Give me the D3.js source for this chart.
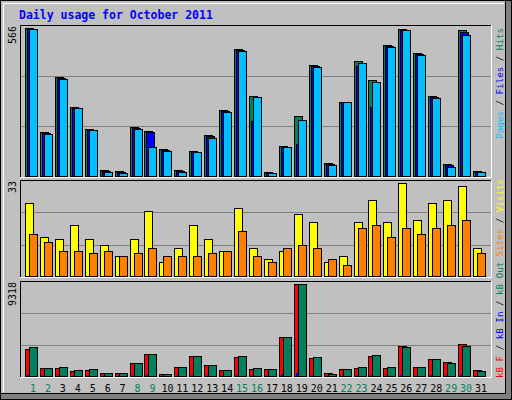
<!DOCTYPE html>
<html><head><meta charset="utf-8">
<script src="https://cdn.jsdelivr.net/npm/d3@7/dist/d3.min.js"></script>
<style>body{margin:0;background:#fff}svg{display:block}</style>
</head><body>
<script>
const days = d3.range(1, 32);
const weekend = [1,2,8,9,15,16,22,23,29,30];
const hits  = [566,167,377,263,179,22,18,186,171,102,22,94,156,251,485,305,14,114,228,423,49,282,439,366,500,561,469,305,45,557,18];
const files = [564,165,375,261,177,20,16,184,167,100,20,92,154,249,483,210,12,112,121,421,47,282,419,263,498,559,467,303,43,549,16];
const pages = [561,160,370,259,175,14,10,179,110,94,14,90,144,244,477,301,10,110,213,416,41,282,431,358,492,557,462,297,33,538,14];
const visits = [26,14,13,18,13,11,7,13,23,5,10,18,13,9,24,10,6,9,22,19,5,7,19,27,19,33,20,26,27,32,10];
const sites  = [15,12,9,9,8,9,7,8,10,7,7,7,8,9,16,7,5,10,11,10,6,4,17,18,14,17,15,17,18,20,8];
const kbF   = [2735,810,810,506,608,304,304,1317,2228,203,912,2026,1114,608,1924,709,709,3950,9318,1823,304,709,810,2026,810,3038,912,1722,1418,3241,608];
const kbIn  = [120,40,40,30,30,20,20,60,90,10,40,80,50,30,80,30,30,150,300,70,20,30,40,80,40,120,40,70,60,130,30];
const kbOut = [2903,810,912,608,709,304,304,1317,2228,203,912,2026,1114,608,2026,810,709,3950,9318,1924,236,709,912,2127,912,2937,912,1722,1317,3038,506];
const maxLabels = ["566","33","9318"];

const W=512,H=400;
const svg=d3.select("body").append("svg").attr("width",W).attr("height",H);
const mono="'DejaVu Sans Mono', 'Liberation Mono', monospace";
svg.append("rect").attr("x",0).attr("y",0).attr("width",W).attr("height",H).attr("fill","#808080");
svg.append("rect").attr("x",0).attr("y",0).attr("width",505).attr("height",393).attr("fill","#C0C0C0");
svg.append("rect").attr("x",0.5).attr("y",0.5).attr("width",W-1).attr("height",H-1).attr("fill","none").attr("stroke","#000");
svg.append("path").attr("d","M3.5,392V3.5H504").attr("fill","none").attr("stroke","#fff");
svg.append("path").attr("d","M505.5,1V393.5H1").attr("fill","none").attr("stroke","#000");

svg.append("text").attr("x",19).attr("y",19).attr("font-family",mono).attr("font-weight","bold")
  .attr("font-size",11.5).attr("fill","#0000FF").text("Daily usage for October 2011");

const x=d3.scaleLinear().domain([1,31]).range([33,481]);
const L=20,R=491;
const panels=[
  {top:25,bot:177,max:566,lab:maxLabels[0]},
  {top:180,bot:277,max:33,lab:maxLabels[1]},
  {top:281,bot:377,max:9318,lab:maxLabels[2]}
];
panels.forEach(p=>{
  p.y=d3.scaleLinear().domain([0,p.max]).range([p.bot-1,p.top+3]);
  const g=svg.append("g");
  [1,2].forEach(k=>{const yy=Math.round(p.top+(p.bot-p.top)*k/3)+0.5;
    g.append("line").attr("x1",L).attr("x2",R).attr("y1",yy).attr("y2",yy).attr("stroke","#808080");});
  g.append("path").attr("d",`M${L+0.5},${p.bot}V${p.top+0.5}H${R}`).attr("fill","none").attr("stroke","#000");
  g.append("path").attr("d",`M${R+0.5},${p.top}V${p.bot+0.5}H${L}`).attr("fill","none").attr("stroke","#fff");
  svg.append("text").attr("transform",`translate(16,${p.top+1}) rotate(-90)`).attr("text-anchor","end")
    .attr("font-family",mono).attr("font-size",10).attr("fill","#000").text(p.lab);
});

function bars(p,data,off,w,color){
  svg.append("g").selectAll("rect").data(data).join("rect")
    .attr("x",(d,i)=>Math.round(x(days[i]))+off+0.5).attr("width",w)
    .attr("y",d=>Math.round(p.y(d))+0.5).attr("height",d=>Math.max(0,p.bot-1-Math.round(p.y(d))))
    .attr("fill",color).attr("stroke","#000");
}
bars(panels[0],hits,-8,8,"#00805C");
bars(panels[0],files,-6,8,"#0000FF");
bars(panels[0],pages,-4,8,"#00C0FF");
bars(panels[1],visits,-8,8,"#FFFF00");
bars(panels[1],sites,-4,8,"#FF8000");
bars(panels[2],kbF,-8,8,"#FF0000");
bars(panels[2],kbOut,-4,8,"#00805C");
svg.append("g").selectAll("rect").data(kbIn).join("rect")
  .attr("x",(d,i)=>Math.round(x(days[i]))-6).attr("width",2)
  .attr("y",d=>panels[2].y(d)).attr("height",d=>panels[2].bot-1-panels[2].y(d)).attr("fill","#0000FF");

svg.append("g").selectAll("text").data(days).join("text")
  .attr("x",d=>x(d)).attr("y",392).attr("text-anchor","middle").attr("font-family",mono).attr("font-size",10)
  .attr("fill",d=>weekend.includes(d)?"#00805C":"#000").text(d=>d);

function legend(ya,anchor,parts){
  const t=svg.append("text").attr("transform",`translate(503,${ya}) rotate(-90)`).attr("text-anchor",anchor)
    .attr("font-family",mono).attr("font-size",9.2);
  parts.forEach(([s,c])=>t.append("tspan").attr("fill",c).text(s));
}
legend(28,"end",[["Pages","#00C0FF"],[" / ","#000"],["Files","#0000FF"],[" / ","#000"],["Hits","#00805C"]]);
legend(179,"end",[["Sites","#FF8000"],[" / ","#000"],["Visits","#FFFF00"]]);
legend(378,"start",[["kB F","#FF0000"],[" / ","#000"],["kB In","#0000FF"],[" / ","#000"],["kB Out","#00805C"]]);
</script>
</body></html>
